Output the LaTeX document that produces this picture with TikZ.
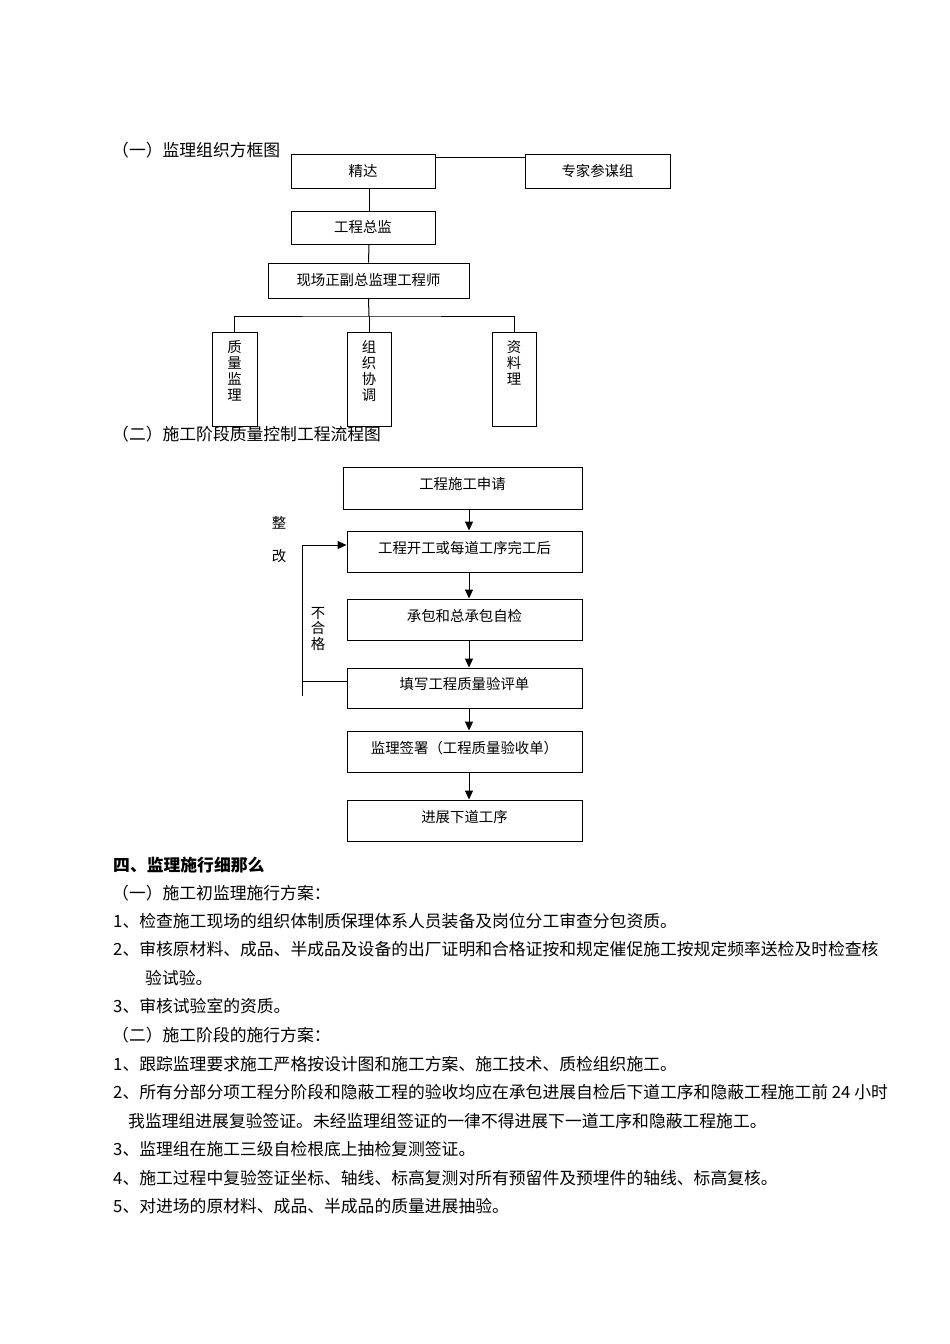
\documentclass[tikz,border=0pt]{standalone}
\usepackage{fontspec}
\setmainfont{Noto Sans CJK SC}
\usetikzlibrary{arrows.meta}
\newcommand\bodysize{\fontsize{16.8}{20}\selectfont}
\newcommand\boxsize{\fontsize{14.4}{16}\selectfont}

\begin{document}
\begin{tikzpicture}[x=1pt, y=-1pt,
	orgbox/.style={draw, line width=1pt, inner sep=0, font=\boxsize},
	flowbox/.style={draw, line width=1pt, inner sep=0, minimum width=235, minimum height=41,
		text height=12pt, text depth=9pt, font=\boxsize},
	vtext/.style={anchor=north, align=center, inner sep=0, font=\boxsize},
	txt/.style={anchor=west, inner sep=0, text height=14pt, text depth=1.5pt, font=\bodysize},
	flowarr/.style={line width=1pt, -{Triangle[length=9pt, width=8pt]}}]
	\fill[white] (0,0) rectangle (950,1344);
	\useasboundingbox (0,0) rectangle (950,1344);

	% org chart
	\node[txt] (h1) at (112,150) {（一）监理组织方框图};
	\node[orgbox, minimum width=144, minimum height=34] (jd) at (363,171) {精达};
	\node[orgbox, minimum width=145, minimum height=34] (zj) at (597.5,171) {专家参谋组};
	\node[orgbox, minimum width=144, minimum height=33] (zjl) at (363,227.5) {工程总监};
	\node[orgbox, minimum width=201, minimum height=35] (xc) at (368.5,280.5) {现场正副总监理工程师};
	\node[orgbox, minimum width=45, minimum height=94] (zl) at (234.5,379) {};
	\node[orgbox, minimum width=44, minimum height=94] (zx) at (369,379) {};
	\node[orgbox, minimum width=44, minimum height=94] (zlj) at (514,379) {};
	\node[vtext] (zl-t) at ([yshift=-9]zl.north) {质\\量\\监\\理};
	\node[vtext] (zx-t) at ([yshift=-9]zx.north) {组\\织\\协\\调};
	\node[vtext] (zlj-t) at ([yshift=-9]zlj.north) {资\\料\\理};
	\coordinate (bus) at (369,316);
	\draw[line width=1pt] ([yshift=-4]jd.north east) -- ([yshift=-4]zj.north west);
	\draw[line width=1pt] ([xshift=6]jd.south) -- ([xshift=6]zjl.north);
	\draw[line width=1pt] ([xshift=6]zjl.south) -- (xc.north);
	\draw[line width=1pt] (xc.south) -- (bus);
	\draw[line width=1pt] (zl.north) |- (bus) -| (zlj.north);
	\draw[line width=1pt] (zx.north) -- (zx.north |- bus);

	% flow chart
	\node[txt] (h2) at (112,434) {（二）施工阶段质量控制工程流程图};
	\node[flowbox, minimum width=239, minimum height=42] (f1) at (462.5,488) {工程施工申请};
	\node[flowbox] (f2) at (464.5,551.5) {工程开工或每道工序完工后};
	\node[flowbox] (f3) at (464.5,619.5) {承包和总承包自检};
	\node[flowbox, minimum height=40] (f4) at (464.5,688) {填写工程质量验评单};
	\node[flowbox] (f5) at (464.5,751.5) {监理签署（工程质量验收单）};
	\node[flowbox] (f6) at (464.5,820.5) {进展下道工序};
	\draw[flowarr] ([xshift=6.5]f1.south) -- ([xshift=4.5]f2.north);
	\draw[flowarr] ([xshift=4.5]f2.south) -- ([xshift=4.5]f3.north);
	\draw[flowarr] ([xshift=4.5]f3.south) -- ([xshift=4.5]f4.north);
	\draw[flowarr] ([xshift=4.5]f4.south) -- ([xshift=4.5]f5.north);
	\draw[flowarr] ([xshift=4.5]f5.south) -- ([xshift=4.5]f6.north);
	\coordinate (looptop) at (302,545);
	\coordinate (loopbot) at (302,696);
	\draw[line width=1pt] ([yshift=7]f4.west) -- ++(-45,0);
	\draw[line width=1pt] (loopbot) -- (looptop);
	\draw[flowarr] (looptop) -- (looptop -| f2.west);
	\node[font=\boxsize, inner sep=0] (zheng) at (279,523) {整};
	\node[font=\boxsize, inner sep=0] (gai) at (279,556) {改};
	\node[font=\fontsize{14.4}{15.5}\selectfont, align=center, inner sep=0] (bhg) at (318,629) {不\\合\\格};

	% rules
	\node[txt, font=\bodysize\bfseries] (l0) at (113,865.5) {四、监理施行细那么};
	\node[txt] (l1) at (112,893) {（一）施工初监理施行方案：};
	\node[txt] (l2) at (113,921) {1、检查施工现场的组织体制质保理体系人员装备及岗位分工审查分包资质。};
	\node[txt] (l3) at (113,949.5) {2、审核原材料、成品、半成品及设备的出厂证明和合格证按和规定催促施工按规定频率送检及时检查核};
	\node[txt] (l4) at (145,978) {验试验。};
	\node[txt] (l5) at (113,1006.5) {3、审核试验室的资质。};
	\node[txt] (l6) at (112,1035) {（二）施工阶段的施行方案：};
	\node[txt] (l7) at (113,1064) {1、跟踪监理要求施工严格按设计图和施工方案、施工技术、质检组织施工。};
	\node[txt] (l8) at (113,1092.5) {2、所有分部分项工程分阶段和隐蔽工程的验收均应在承包进展自检后下道工序和隐蔽工程施工前 24 小时};
	\node[txt] (l9) at (128,1121) {我监理组进展复验签证。未经监理组签证的一律不得进展下一道工序和隐蔽工程施工。};
	\node[txt] (l10) at (113,1149.5) {3、监理组在施工三级自检根底上抽检复测签证。};
	\node[txt] (l11) at (113,1178) {4、施工过程中复验签证坐标、轴线、标高复测对所有预留件及预埋件的轴线、标高复核。};
	\node[txt] (l12) at (113,1206.5) {5、对进场的原材料、成品、半成品的质量进展抽验。};
\end{tikzpicture}
\end{document}
